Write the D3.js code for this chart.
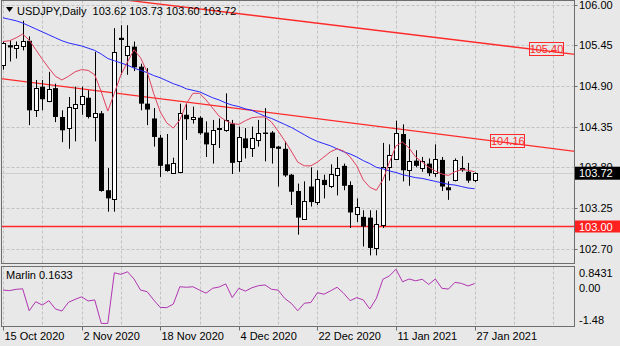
<!DOCTYPE html>
<html><head><meta charset="utf-8">
<script src="https://cdn.jsdelivr.net/npm/d3@7/dist/d3.min.js"></script>
<style>
html,body{margin:0;padding:0;background:#e8e8e8;}
svg{display:block;font-family:"Liberation Sans",Arial,sans-serif;}
</style></head><body>
<svg id="c" width="620" height="346"></svg>
<script>
// ---- DATA ----
const dates = ["2020-10-15","2020-10-16","2020-10-19","2020-10-20","2020-10-21","2020-10-22","2020-10-23","2020-10-26","2020-10-27","2020-10-28","2020-10-29","2020-10-30",
"2020-11-02","2020-11-03","2020-11-04","2020-11-05","2020-11-06","2020-11-09","2020-11-10","2020-11-11","2020-11-12","2020-11-13","2020-11-16","2020-11-17",
"2020-11-18","2020-11-19","2020-11-20","2020-11-23","2020-11-24","2020-11-25","2020-11-26","2020-11-27","2020-11-30","2020-12-01","2020-12-02","2020-12-03",
"2020-12-04","2020-12-07","2020-12-08","2020-12-09","2020-12-10","2020-12-11","2020-12-14","2020-12-15","2020-12-16","2020-12-17","2020-12-18","2020-12-21",
"2020-12-22","2020-12-23","2020-12-24","2020-12-28","2020-12-29","2020-12-30","2020-12-31","2021-01-04","2021-01-05","2021-01-06","2021-01-07","2021-01-08",
"2021-01-11","2021-01-12","2021-01-13","2021-01-14","2021-01-15","2021-01-18","2021-01-19","2021-01-20","2021-01-21","2021-01-22","2021-01-25","2021-01-26",
"2021-01-27"];
const open  = [105.18,105.45,105.41,105.44,105.51,104.57,104.89,104.70,104.87,104.48,104.33,104.60,104.65,104.74,104.48,104.53,103.49,103.38,105.55,105.32,105.43,105.16,104.66,104.46,104.20,103.84,103.73,103.73,104.51,104.45,104.47,104.27,104.12,104.32,104.31,104.39,103.88,104.19,104.06,104.18,104.27,104.27,104.08,104.05,103.70,103.48,103.10,103.54,103.33,103.63,103.55,103.70,103.82,103.56,103.17,103.13,103.12,102.71,103.02,103.81,103.92,104.25,103.77,103.89,103.80,103.85,103.72,103.90,103.53,103.63,103.79,103.74,103.62];
const high  = [105.50,105.52,105.50,105.78,105.57,104.98,104.98,105.09,104.93,104.57,104.75,104.89,104.89,104.84,105.36,104.56,103.79,105.68,105.72,105.72,105.50,105.20,105.14,104.60,104.24,104.25,103.93,104.66,104.66,104.62,104.49,104.42,104.44,104.46,104.80,104.44,104.35,104.33,104.35,104.44,104.60,104.29,104.09,104.15,103.71,103.58,103.61,103.80,103.76,103.70,103.84,103.94,103.85,103.61,103.38,103.22,103.22,103.22,104.13,104.11,104.43,104.38,104.18,104.03,103.94,103.92,104.11,103.94,103.61,103.92,103.95,103.86,103.73];
const low   = [105.12,105.23,105.27,105.38,104.37,104.48,104.57,104.68,104.41,104.14,104.05,104.15,104.51,104.46,104.15,103.47,103.20,103.20,105.05,105.05,105.10,104.57,104.37,104.08,103.67,103.74,103.72,103.72,104.17,104.39,104.24,103.94,103.85,104.06,104.28,103.71,103.74,103.92,103.94,104.08,103.88,103.85,103.54,103.67,103.29,102.89,103.09,103.27,103.29,103.38,103.52,103.42,103.49,102.98,103.06,102.73,102.61,102.61,102.98,103.62,103.90,103.61,103.55,103.80,103.74,103.68,103.67,103.48,103.36,103.61,103.74,103.59,103.60];
const close = [105.48,105.42,105.45,105.51,104.57,104.87,104.72,104.86,104.48,104.30,104.61,104.66,104.76,104.48,104.53,103.48,103.38,105.36,105.52,105.44,105.15,104.66,104.58,104.21,103.82,103.75,103.86,104.53,104.45,104.48,104.26,104.11,104.31,104.33,104.44,103.86,104.21,104.06,104.20,104.27,104.25,104.06,104.05,103.69,103.47,103.12,103.34,103.33,103.64,103.56,103.71,103.79,103.55,103.19,103.27,103.00,102.71,103.04,103.80,103.97,104.27,103.76,103.89,103.82,103.89,103.72,103.91,103.54,103.49,103.90,103.76,103.62,103.72];
const maSlow = [105.82,105.80,105.78,105.75,105.71,105.67,105.63,105.59,105.55,105.51,105.48,105.46,105.44,105.41,105.38,105.33,105.27,105.24,105.21,105.18,105.14,105.11,105.08,105.04,105.01,104.97,104.93,104.90,104.86,104.84,104.82,104.78,104.74,104.71,104.67,104.64,104.62,104.59,104.57,104.53,104.49,104.46,104.42,104.38,104.34,104.29,104.24,104.19,104.15,104.12,104.09,104.05,104.01,103.98,103.94,103.89,103.85,103.80,103.78,103.75,103.73,103.70,103.68,103.66,103.65,103.63,103.61,103.59,103.57,103.56,103.54,103.52,103.51];
const maFast = [105.50,105.51,105.55,105.60,105.52,105.39,105.26,105.14,105.03,104.98,105.03,105.09,105.12,105.11,105.05,104.82,104.56,104.80,105.05,105.22,105.39,105.28,105.09,104.80,104.55,104.40,104.33,104.44,104.66,104.80,104.80,104.71,104.60,104.49,104.43,104.39,104.38,104.43,104.47,104.48,104.48,104.41,104.29,104.16,104.02,103.87,103.82,103.82,103.87,103.94,104.01,104.05,104.02,103.94,103.82,103.63,103.53,103.49,103.63,103.87,104.09,104.14,104.06,103.94,103.87,103.80,103.75,103.71,103.69,103.74,103.77,103.76,103.74];
const marlin = [-0.09,-0.11,-0.06,-0.04,-0.89,-0.54,-0.67,-0.50,-0.82,-0.90,-0.56,-0.45,-0.35,-0.51,-0.47,-1.38,-1.38,0.58,0.52,0.62,0.34,-0.09,-0.15,-0.47,-0.76,-0.77,-0.63,0.04,0.02,0.04,-0.09,-0.21,-0.02,0.03,0.15,-0.38,-0.02,-0.13,0.00,0.08,0.11,-0.06,-0.09,-0.41,-0.60,-0.89,-0.60,-0.57,-0.19,-0.25,-0.12,0.02,-0.21,-0.50,-0.38,-0.47,-0.82,-0.41,0.33,0.46,0.72,0.23,0.34,0.27,0.33,0.13,0.34,-0.02,-0.05,0.21,0.17,0.07,0.1633];
const priceTicks = ["106.00","105.45","104.90","104.35","103.80","103.25","102.70"];
const dateTickIdx = [0,12,24,36,48,60,72];
const dateTickLabels = ["15 Oct 2020","2 Nov 2020","18 Nov 2020","4 Dec 2020","22 Dec 2020","11 Jan 2021","27 Jan 2021"];
const upperTrend = [{i:30, p:105.94},{i:87, p:105.33}];
const lowerTrend = [{i:0, p:104.995},{i:87, p:104.02}];
const trendLabels = [{i:80.3, text:"105.40", line:upperTrend},{i:74.4, text:"104.16", line:lowerTrend}];
const levelLine = 103.00;
const lastPrice = 103.72;
const marlinTicks = [{v:0.8431,t:"0.8431",dy:7},{v:0,t:"0.00",dy:0},{v:-1.48,t:"-1.48",dy:-6}];
const header = "USDJPY,Daily  103.62 103.73 103.60 103.72";
const marlinTitle = "Marlin 0.1633";

// ---- LAYOUT ----
const svg = d3.select("#c");
const W = 620, H = 346;
const left = 1.5, right = 574.5, mTop = 0.5, mBot = 263.5, iTop = 266.5, iBot = 326.5;
const x = d3.scaleLinear().domain([0,87]).range([3, 3+87*6.55]);
const y = d3.scaleLinear().domain([106.00, 102.70]).range([4.5, 4.5+3.3*74]);
const yi = d3.scaleLinear().domain([-1.48, 0.8431]).range([326, 266]);
const N = dates.length;
const idx = d3.range(N);

svg.append("rect").attr("width",W).attr("height",H).attr("fill","#e8e8e8");

svg.append("defs").append("clipPath").attr("id","clipM")
  .append("rect").attr("x",left).attr("y",mTop).attr("width",right-left).attr("height",mBot-mTop);
svg.select("defs").append("clipPath").attr("id","clipI")
  .append("rect").attr("x",left).attr("y",iTop).attr("width",right-left).attr("height",iBot-iTop);

const grid = svg.append("g").attr("stroke","#c2c2c2").attr("stroke-dasharray","3,2").attr("stroke-width",1);
// vertical grid every 6 bars
d3.range(0, 88, 6).forEach(i=>{
  const gx = Math.round(x(i))+0.5;
  if (gx<=left+1 || gx>=right) return;
  grid.append("line").attr("x1",gx).attr("x2",gx).attr("y1",mTop).attr("y2",mBot);
  grid.append("line").attr("x1",gx).attr("x2",gx).attr("y1",iTop).attr("y2",iBot);
});
priceTicks.forEach(t=>{
  const gy = Math.round(y(+t))+0.5;
  grid.append("line").attr("x1",left).attr("x2",right).attr("y1",gy).attr("y2",gy);
});
// bid line
svg.append("line").attr("x1",left).attr("x2",right)
  .attr("y1",Math.round(y(lastPrice))+0.5).attr("y2",Math.round(y(lastPrice))+0.5)
  .attr("stroke","#cfcfcf").attr("stroke-width",1);

const gm = svg.append("g").attr("clip-path","url(#clipM)");

// trendlines
function trendPath(line){
  const a=line[0], b=line[1];
  const slope=(b.p-a.p)/(b.i-a.i);
  const i0=-2, i1=90;
  return [[x(i0), y(a.p+slope*(i0-a.i))],[x(i1), y(a.p+slope*(i1-a.i))]];
}
[upperTrend, lowerTrend].forEach(l=>{
  gm.append("path").attr("d", d3.line()(trendPath(l))).attr("stroke","#ff2a2a").attr("stroke-width",1.3).attr("fill","none");
});
gm.append("line").attr("x1",left).attr("x2",right).attr("y1",y(levelLine)).attr("y2",y(levelLine))
  .attr("stroke","#ff2a2a").attr("stroke-width",1.3);

// candles
const cg = gm.append("g");
idx.forEach(i=>{
  const cx = Math.round(x(i))+0.5;
  const o=open[i], c=close[i];
  cg.append("line").attr("x1",cx).attr("x2",cx).attr("y1",y(high[i])).attr("y2",y(low[i]))
    .attr("stroke","#000").attr("stroke-width",1);
  const top = y(Math.max(o,c)), bot = y(Math.min(o,c));
  const h = Math.max(1, bot-top);
  if (c>=o) {
    cg.append("rect").attr("x",cx-2).attr("y",Math.round(top)+0.5).attr("width",4).attr("height",Math.max(1,Math.round(h)))
      .attr("fill","#fff").attr("stroke","#000").attr("stroke-width",1);
  } else {
    cg.append("rect").attr("x",cx-2.5).attr("y",top).attr("width",5).attr("height",h).attr("fill","#000");
  }
});

// moving averages
const lineM = d3.line().x((d,i)=>x(i)).y(d=>y(d));
gm.append("path").attr("d",lineM(maSlow)).attr("fill","none").attr("stroke","#2828ff").attr("stroke-width",1);
gm.append("path").attr("d",lineM(maFast)).attr("fill","none").attr("stroke","#e0405e").attr("stroke-width",1);

// trend labels
trendLabels.forEach(t=>{
  const a=t.line[0], b=t.line[1];
  const p = a.p+(b.p-a.p)/(b.i-a.i)*(t.i-a.i);
  const lx = x(t.i), ly = y(p);
  const g = svg.append("g");
  g.append("rect").attr("x",Math.round(lx)+0.5).attr("y",Math.round(ly-6.5)+0.5).attr("width",34).attr("height",13)
    .attr("fill","none").attr("stroke","#ff2a2a").attr("stroke-width",1);
  g.append("text").attr("x",lx+17.5).attr("y",ly+4.5).attr("text-anchor","middle")
    .attr("font-size",11).attr("fill","#ff2a2a").text(t.text);
});

// indicator
const gi = svg.append("g").attr("clip-path","url(#clipI)");
gi.append("path").attr("d", d3.line().x((d,i)=>x(i)).y(d=>yi(d))(marlin))
  .attr("fill","none").attr("stroke","#b035b0").attr("stroke-width",1);

// panel borders
const bord = svg.append("g").attr("fill","none").attr("stroke","#6e6e6e").attr("stroke-width",1);
bord.append("rect").attr("x",left).attr("y",mTop).attr("width",right-left).attr("height",mBot-mTop);
bord.append("rect").attr("x",left).attr("y",iTop).attr("width",right-left).attr("height",iBot-iTop);

// price axis
const ax = svg.append("g").attr("font-size",11).attr("fill","#000");
priceTicks.forEach(t=>{
  const ty = y(+t);
  svg.append("line").attr("x1",right).attr("x2",right+3).attr("y1",Math.round(ty)+0.5).attr("y2",Math.round(ty)+0.5).attr("stroke","#6e6e6e");
  ax.append("text").attr("x",579).attr("y",ty+4).text(t);
});
// level label
const ly3 = y(levelLine);
svg.append("rect").attr("x",575).attr("y",ly3-6).attr("width",45).attr("height",12).attr("fill","#ff2020");
svg.append("text").attr("x",579).attr("y",ly3+4).attr("font-size",11).attr("fill","#fff").text(levelLine.toFixed(2));
// last price label
const lpy = y(lastPrice);
svg.append("rect").attr("x",575).attr("y",lpy-6.5).attr("width",45).attr("height",13).attr("fill","#000");
svg.append("text").attr("x",579).attr("y",lpy+4).attr("font-size",11).attr("fill","#fff").text(lastPrice.toFixed(2));

// indicator axis
marlinTicks.forEach(t=>{
  svg.append("text").attr("x",579).attr("y",yi(t.v)+t.dy+4).attr("font-size",11).attr("fill","#000").text(t.t);
});

// date axis
dateTickIdx.forEach((i,k)=>{
  const tx = Math.round(x(i))+0.5;
  svg.append("line").attr("x1",tx).attr("x2",tx).attr("y1",iBot).attr("y2",iBot+4).attr("stroke","#6e6e6e");
  svg.append("text").attr("x",tx+1).attr("y",340).attr("font-size",11).attr("fill","#000").text(dateTickLabels[k]);
});

// header
svg.append("path").attr("d","M6,7 L13,7 L9.5,12 Z").attr("fill","#000");
svg.append("text").attr("x",17).attr("y",15).attr("font-size",11).attr("fill","#000").attr("xml:space","preserve").style("white-space","pre").text(header);
svg.append("text").attr("x",6).attr("y",279).attr("font-size",11).attr("fill","#000").text(marlinTitle);
</script>
</body></html>
